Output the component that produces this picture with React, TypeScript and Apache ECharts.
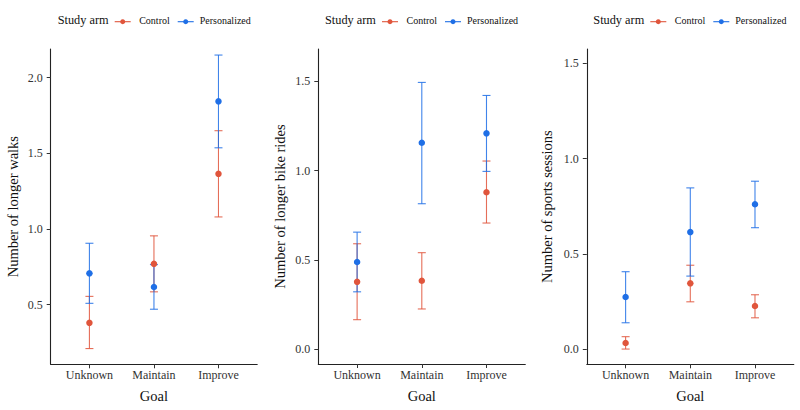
import React, { useEffect, useRef } from "react";
import * as echarts from "echarts";

const categories = ["Unknown", "Maintain", "Improve"];
const yTitles = ["Number of longer walks", "Number of longer bike rides", "Number of sports sessions"];
const armNames = ["Control", "Personalized"];

// walks
const walksControl = [0.38, 0.77, 1.365];
const walksControlLo = [0.21, 0.585, 1.08];
const walksControlHi = [0.555, 0.955, 1.65];
const walksPers = [0.707, 0.617, 1.844];
const walksPersLo = [0.509, 0.47, 1.537];
const walksPersHi = [0.906, 0.765, 2.15];
// bike rides
const bikeControl = [0.378, 0.384, 0.879];
const bikeControlLo = [0.166, 0.226, 0.707];
const bikeControlHi = [0.591, 0.541, 1.054];
const bikePers = [0.489, 1.156, 1.209];
const bikePersLo = [0.322, 0.815, 0.996];
const bikePersHi = [0.656, 1.494, 1.421];
// sports sessions
const sportsControl = [0.032, 0.345, 0.226];
const sportsControlLo = [0.0, 0.248, 0.164];
const sportsControlHi = [0.065, 0.44, 0.285];
const sportsPers = [0.273, 0.614, 0.76];
const sportsPersLo = [0.138, 0.383, 0.637];
const sportsPersHi = [0.406, 0.846, 0.881];

const yTicks = [
  [0.5, 1.0, 1.5, 2.0],
  [0.0, 0.5, 1.0, 1.5],
  [0.0, 0.5, 1.0, 1.5],
];
const yMin = [0.106, -0.082, -0.08];
const yMax = [2.19, 1.681, 1.575];

const RED = "#E0553C";
const BLUE = "#1F6FE6";
const FONT = "Liberation Serif, Times New Roman, serif";

const panelData = [
  { c: [walksControl, walksControlLo, walksControlHi], p: [walksPers, walksPersLo, walksPersHi] },
  { c: [bikeControl, bikeControlLo, bikeControlHi], p: [bikePers, bikePersLo, bikePersHi] },
  { c: [sportsControl, sportsControlLo, sportsControlHi], p: [sportsPers, sportsPersLo, sportsPersHi] },
];

const grids = [
  { left: 50.7, top: 49, width: 206.5, height: 315.3 },
  { left: 318.3, top: 49, width: 207, height: 315 },
  { left: 586.8, top: 49, width: 207, height: 315.3 },
];
const yNameGap = [30, 31, 32.5];
const legendX = [57.7, 325, 593.3];

function errRender(color: string) {
  return (params: any, api: any) => {
    const x = api.value(0);
    const lo = api.coord([x, api.value(1)]);
    const hi = api.coord([x, api.value(2)]);
    const w = 4;
    const style = { stroke: color, lineWidth: 1.1, opacity: 0.85 };
    return {
      type: "group",
      children: [
        { type: "line", shape: { x1: lo[0], y1: lo[1], x2: hi[0], y2: hi[1] }, style },
        { type: "line", shape: { x1: lo[0] - w, y1: lo[1], x2: lo[0] + w, y2: lo[1] }, style },
        { type: "line", shape: { x1: hi[0] - w, y1: hi[1], x2: hi[0] + w, y2: hi[1] }, style },
      ],
    };
  };
}

export default function App() {
  const ref = useRef<HTMLDivElement>(null);
  useEffect(() => {
    if (!ref.current) return;
    const chart = echarts.init(ref.current, null, { renderer: "svg" });

    const xAxis = grids.map((_, i) => ({
      type: "value",
      gridIndex: i,
      min: -0.6,
      max: 2.6,
      name: "Goal",
      nameLocation: "middle",
      nameGap: 24,
      nameTextStyle: { fontFamily: FONT, fontSize: 14.5, color: "#111" },
      axisLine: { show: true, onZero: false, lineStyle: { color: "#222", width: 1.1 } },
      axisTick: { show: true, length: 4, customValues: [0, 1, 2], lineStyle: { color: "#333" } },
      axisLabel: {
        show: true,
        customValues: [0, 1, 2],
        margin: 5,
        fontFamily: FONT,
        fontSize: 12,
        color: "#333",
        formatter: (v: number) => categories[Math.round(v)] ?? "",
      },
      splitLine: { show: false },
    }));

    const yAxis = grids.map((_, i) => ({
      type: "value",
      gridIndex: i,
      min: yMin[i],
      max: yMax[i],
      name: yTitles[i],
      nameLocation: "middle",
      nameGap: yNameGap[i],
      nameRotate: 90,
      nameTextStyle: { fontFamily: FONT, fontSize: 14.5, color: "#111" },
      axisLine: { show: true, onZero: false, lineStyle: { color: "#222", width: 1.1 } },
      axisTick: { show: true, length: 4, customValues: yTicks[i], lineStyle: { color: "#333" } },
      axisLabel: {
        show: true,
        customValues: yTicks[i],
        margin: 8,
        fontFamily: FONT,
        fontSize: 12,
        color: "#333",
        formatter: (v: number) => v.toFixed(1),
      },
      splitLine: { show: false },
    }));

    const series: any[] = [];
    panelData.forEach((pd, i) => {
      const arms = [
        { name: armNames[0], d: pd.c, color: RED },
        { name: armNames[1], d: pd.p, color: BLUE },
      ];
      arms.forEach((a) => {
        series.push({
          type: "custom",
          name: a.name,
          xAxisIndex: i,
          yAxisIndex: i,
          renderItem: errRender(a.color),
          encode: { x: 0, y: [1, 2] },
          data: categories.map((_, j) => [j, a.d[1][j], a.d[2][j]]),
          z: 2,
          silent: true,
        });
      });
      arms.forEach((a) => {
        series.push({
          type: "scatter",
          name: a.name,
          xAxisIndex: i,
          yAxisIndex: i,
          symbol: "circle",
          symbolSize: 6.5,
          itemStyle: { color: a.color, opacity: 1 },
          data: categories.map((_, j) => [j, a.d[0][j]]),
          z: 3,
          silent: true,
        });
      });
    });

    const graphic: any[] = [];
    legendX.forEach((lx) => {
      const cy = 21.7;
      graphic.push({
        type: "text",
        left: lx,
        top: cy - 8,
        style: { text: "Study arm", fontFamily: FONT, fontSize: 12.3, fill: "#111" },
      });
      const keys = [
        { c: lx + 65, tx: lx + 81.5, label: armNames[0], color: RED },
        { c: lx + 128, tx: lx + 142, label: armNames[1], color: BLUE },
      ];
      keys.forEach((k) => {
        graphic.push({
          type: "line",
          shape: { x1: k.c - 8, y1: cy, x2: k.c + 8, y2: cy },
          style: { stroke: k.color, lineWidth: 1.1 },
        });
        graphic.push({
          type: "circle",
          shape: { cx: k.c, cy, r: 2.5 },
          style: { fill: k.color },
        });
        graphic.push({
          type: "text",
          left: k.tx,
          top: cy - 6.5,
          style: { text: k.label, fontFamily: FONT, fontSize: 10, fill: "#111" },
        });
      });
    });

    chart.setOption({
      animation: false,
      backgroundColor: "#ffffff",
      textStyle: { fontFamily: FONT },
      grid: grids,
      xAxis,
      yAxis,
      series,
      graphic,
    });
    return () => chart.dispose();
  }, []);

  return (
    <div
      ref={ref}
      style={{ position: "fixed", left: 0, top: 0, width: 800, height: 410, background: "#fff" }}
    />
  );
}
